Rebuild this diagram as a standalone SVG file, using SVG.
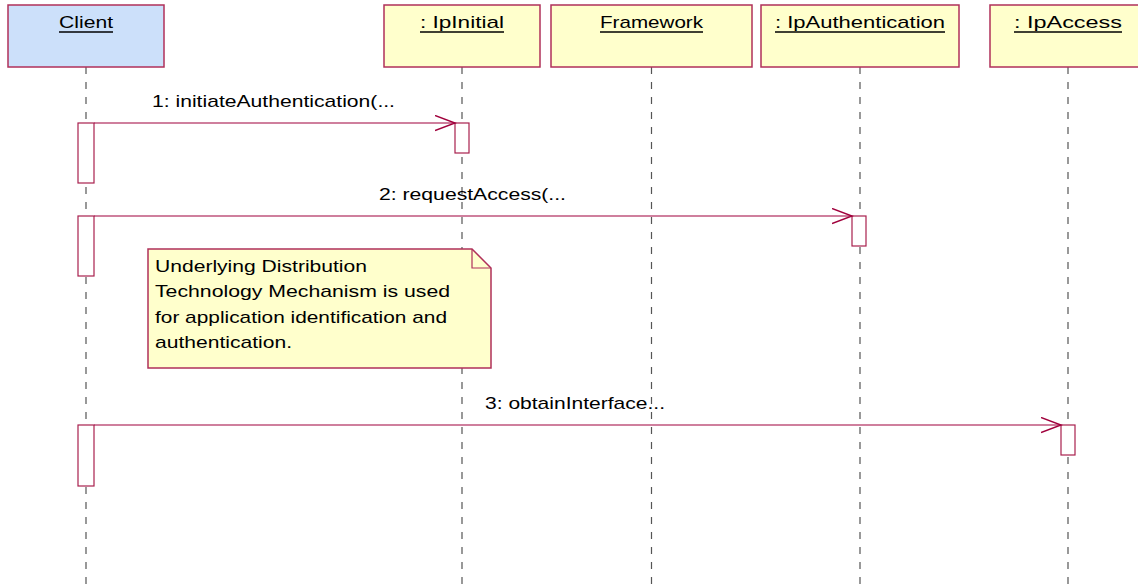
<svg xmlns="http://www.w3.org/2000/svg" width="1138" height="587" viewBox="0 0 1138 587">
<defs>
<style>
.obj{stroke:#b0305a;stroke-width:1.5}
.blue{fill:#cce0fa}
.yel{fill:#ffffcc}
.t{font-family:"Liberation Sans",Arial,sans-serif;font-size:17px;fill:#000}
.ul{stroke:#000;stroke-width:1.5}
.life{stroke:#555;stroke-width:1.2;stroke-dasharray:7 8;fill:none}
.act{fill:#fff;stroke:#a8204e;stroke-width:1.2}
.msg{stroke:#a0003c;stroke-width:1.2;fill:none}
</style>
<marker id="open" markerWidth="22" markerHeight="18" refX="20" refY="8" orient="auto" markerUnits="userSpaceOnUse">
<path d="M0,0.5 L20,8 L0,15.5" fill="none" stroke="#a0003c" stroke-width="1.5"/>
</marker>
</defs>
<rect width="1138" height="587" fill="#fff"/>

<g id="lifelines">
<line class="life" x1="86" y1="67" x2="86" y2="587"/>
<line class="life" x1="462" y1="67" x2="462" y2="587"/>
<line class="life" x1="651.5" y1="67" x2="651.5" y2="587"/>
<line class="life" x1="860" y1="67" x2="860" y2="587"/>
<line class="life" x1="1068" y1="67" x2="1068" y2="587"/>
</g>

<g id="client">
<rect class="obj blue" x="8" y="5" width="156" height="62"/>
<text class="t" x="59" y="28" textLength="54" lengthAdjust="spacingAndGlyphs">Client</text>
<line class="ul" x1="59" y1="32" x2="113" y2="32"/>
</g>
<g id="ipinitial">
<rect class="obj yel" x="384" y="5" width="156" height="62"/>
<text class="t" x="420" y="28" textLength="84" lengthAdjust="spacingAndGlyphs">: IpInitial</text>
<line class="ul" x1="420" y1="32" x2="504" y2="32"/>
</g>
<g id="framework">
<rect class="obj yel" x="551" y="5" width="201" height="62"/>
<text class="t" x="600" y="28" textLength="103" lengthAdjust="spacingAndGlyphs">Framework</text>
<line class="ul" x1="600" y1="32" x2="703" y2="32"/>
</g>
<g id="ipauthentication">
<rect class="obj yel" x="761" y="5" width="198" height="62"/>
<text class="t" x="775" y="28" textLength="170" lengthAdjust="spacingAndGlyphs">: IpAuthentication</text>
<line class="ul" x1="775" y1="32" x2="945" y2="32"/>
</g>
<g id="ipaccess">
<rect class="obj yel" x="990" y="5" width="156" height="62"/>
<text class="t" x="1014" y="28" textLength="108" lengthAdjust="spacingAndGlyphs">: IpAccess</text>
<line class="ul" x1="1014" y1="32" x2="1122" y2="32"/>
</g>

<g id="activations">
<rect class="act" x="78" y="123" width="16" height="60"/>
<rect class="act" x="455" y="123" width="14" height="30"/>
<rect class="act" x="78" y="216" width="16" height="60"/>
<rect class="act" x="852" y="216" width="14" height="30"/>
<rect class="act" x="78" y="425" width="16" height="61"/>
<rect class="act" x="1061" y="425" width="14" height="30"/>
</g>

<g id="connectors">
<line class="msg" x1="94" y1="123" x2="455" y2="123" marker-end="url(#open)"/>
<line class="msg" x1="94" y1="216" x2="852" y2="216" marker-end="url(#open)"/>
<line class="msg" x1="94" y1="425" x2="1061" y2="425" marker-end="url(#open)"/>
<text class="t" x="152" y="107" textLength="243" lengthAdjust="spacingAndGlyphs">1: initiateAuthentication(...</text>
<text class="t" x="379" y="200" textLength="187" lengthAdjust="spacingAndGlyphs">2: requestAccess(...</text>
<text class="t" x="485" y="409" textLength="180" lengthAdjust="spacingAndGlyphs">3: obtainInterface...</text>
</g>

<g id="note">
<path d="M148,249 L472,249 L491,268 L491,368 L148,368 Z" fill="#ffffcc" stroke="#b0305a" stroke-width="1.5"/>
<path d="M472,249 L472,268 L491,268" fill="none" stroke="#b0305a" stroke-width="1.2"/>
<text class="t" x="155" y="272" textLength="212" lengthAdjust="spacingAndGlyphs">Underlying Distribution</text>
<text class="t" x="155" y="297" textLength="295" lengthAdjust="spacingAndGlyphs">Technology Mechanism is used</text>
<text class="t" x="155" y="323" textLength="292" lengthAdjust="spacingAndGlyphs">for application identification and</text>
<text class="t" x="155" y="348" textLength="137" lengthAdjust="spacingAndGlyphs">authentication.</text>
</g>
</svg>
